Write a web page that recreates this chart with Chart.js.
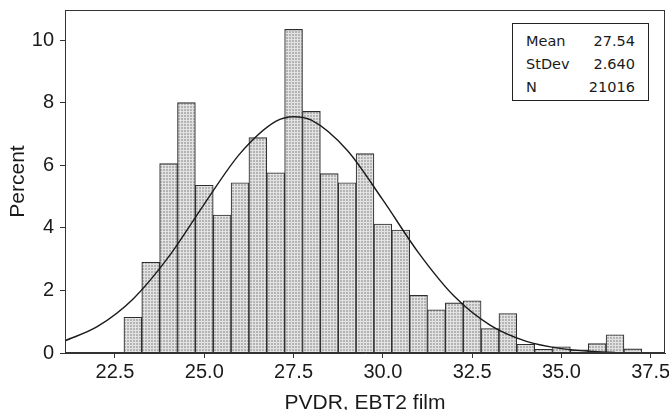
<!DOCTYPE html>
<html>
<head>
<meta charset="utf-8">
<style>
  body { margin: 0; background: #fff; }
  #wrap { position: relative; width: 669px; height: 410px; }
  #stats {
    position: absolute; left: 512px; top: 23px; width: 137px; height: 78px;
    border: 1px solid #222; background: #fff;
    font-family: 'DejaVu Sans', sans-serif; font-size: 14.5px; color: #1a1a1a;
    padding: 6px 13px 0 13px; box-sizing: border-box;
    display: grid; grid-template-columns: auto auto; grid-auto-rows: 22.7px; align-items: center;
  }
  #stats .v { text-align: right; }
</style>
</head>
<body>
<div id="wrap">
  <canvas id="hist" width="669" height="410"></canvas>
  <div id="stats">
    <span>Mean</span><span class="v">27.54</span>
    <span>StDev</span><span class="v">2.640</span>
    <span>N</span><span class="v">21016</span>
  </div>
</div>
<script src="https://cdn.jsdelivr.net/npm/chart.js"></script>
<script>
// histogram bins (centres, width 0.5) and percent per bin
const binCenters = [23.0, 23.5, 24.0, 24.5, 25.0, 25.5, 26.0, 26.5, 27.0, 27.5, 28.0, 28.5, 29.0, 29.5, 30.0,
                    30.5, 31.0, 31.5, 32.0, 32.5, 33.0, 33.5, 34.0, 34.5, 35.0, 35.5, 36.0, 36.5, 37.0];
const percents = [1.14, 2.90, 6.05, 8.00, 5.36, 4.41, 5.44, 6.88, 5.76, 10.34, 7.72, 5.73, 5.44, 6.37, 4.12,
                  3.93, 1.84, 1.38, 1.60, 1.67, 0.78, 1.26, 0.28, 0.12, 0.20, 0.10, 0.30, 0.58, 0.13];
// fitted normal curve
const curveX = [21.1, 22.0, 23.0, 24.0, 25.0, 26.0, 27.0, 27.5, 28.0, 29.0, 30.0, 31.0, 32.0, 33.0, 34.0, 35.0, 36.0, 36.5];
const curveY = [0.39, 0.84, 1.72, 3.07, 4.76, 6.37, 7.40, 7.55, 7.44, 6.48, 4.89, 3.20, 1.81, 0.89, 0.38, 0.14, 0.04, 0.02];
const xTicks = [22.5, 25.0, 27.5, 30.0, 32.5, 35.0, 37.5];
const yTicks = [0, 2, 4, 6, 8, 10];

// dotted grey fill like the original
const pc = document.createElement('canvas');
pc.width = 3; pc.height = 3;
const pctx = pc.getContext('2d');
pctx.fillStyle = '#b4b4b4'; pctx.fillRect(0, 0, 3, 3);
pctx.fillStyle = '#e2e2e2'; pctx.fillRect(0, 0, 3, 1); pctx.fillRect(0, 0, 1, 3);
const ctx = document.getElementById('hist').getContext('2d');
const fill = ctx.createPattern(pc, 'repeat');

const frame = {
  id: 'frame',
  afterDatasetsDraw(chart) {
    const a = chart.chartArea, c = chart.ctx;
    c.save();
    c.strokeStyle = '#333'; c.lineWidth = 1;
    c.strokeRect(a.left + 0.5, a.top + 0.5, a.right - a.left - 1, a.bottom - a.top - 1);
    c.restore();
  }
};

const txt = '#1a1a1a';
new Chart(ctx, {
  data: {
    datasets: [
      { type: 'line', order: 0, data: curveX.map((x, i) => ({ x, y: curveY[i] })),
        borderColor: '#1a1a1a', borderWidth: 1.4, pointRadius: 0, cubicInterpolationMode: 'monotone', fill: false },
      { type: 'bar', order: 1, data: binCenters.map((x, i) => ({ x, y: percents[i] })),
        backgroundColor: fill, borderColor: '#2e2e2e', borderWidth: 1.1,
        barPercentage: 1, categoryPercentage: 1 }
    ]
  },
  options: {
    responsive: false,
    animation: false,
    layout: { padding: { left: 0, right: 4, top: 10, bottom: 0 } },
    plugins: { legend: { display: false }, tooltip: { enabled: false } },
    scales: {
      x: {
        type: 'linear', min: 21.1, max: 37.9, offset: false,
        afterBuildTicks: s => { s.ticks = xTicks.map(v => ({ value: v })); },
        afterFit: s => { s.height = 57; s.paddingLeft = 0; s.paddingRight = 0; },
        ticks: { callback: v => v.toFixed(1), color: txt, padding: 2, maxRotation: 0, autoSkip: false,
                 font: { family: 'Liberation Sans', size: 20 } },
        grid: { drawOnChartArea: false, offset: false, tickLength: 5, color: '#333' },
        border: { color: '#333' },
        title: { display: true, text: 'PVDR, EBT2 film', color: txt, padding: { top: 0, bottom: 0 },
                 font: { family: 'Liberation Sans', size: 21, lineHeight: 0.65 } }
      },
      y: {
        min: 0, max: 10.96,
        afterBuildTicks: s => { s.ticks = yTicks.map(v => ({ value: v })); },
        afterFit: s => { s.width = 65; s.paddingTop = 0; s.paddingBottom = 0; },
        ticks: { color: txt, padding: 6, font: { family: 'Liberation Sans', size: 20 } },
        grid: { drawOnChartArea: false, tickLength: 5, color: '#333' },
        border: { color: '#333' },
        title: { display: true, text: 'Percent', color: txt, padding: { top: 6, bottom: 0 },
                 font: { family: 'Liberation Sans', size: 21 } }
      }
    }
  },
  plugins: [frame]
});
</script>
</body>
</html>
